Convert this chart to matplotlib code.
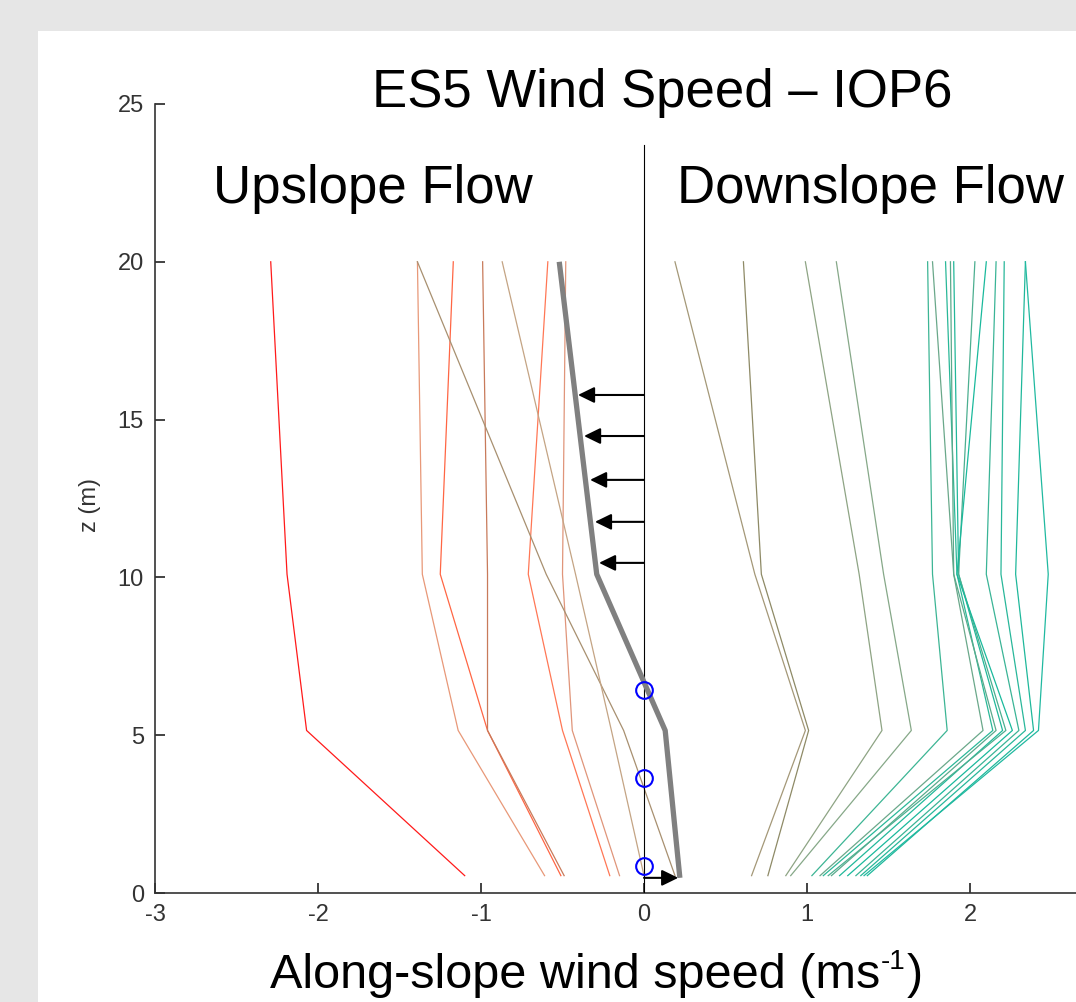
import matplotlib
matplotlib.use('Agg')
import matplotlib.pyplot as plt
from matplotlib.patches import Rectangle
import numpy as np

plt.rcParams['axes.unicode_minus'] = False

# ---------------- data ----------------
z_levels = [0.55, 5.15, 10.1, 20.0]

# along-slope speed at z_levels (bottom -> top)
upslope_profiles = [
    [-1.10, -2.07, -2.19, -2.29],
    [-0.61, -1.14, -1.36, -1.39],
    [-0.51, -0.96, -1.25, -1.17],
    [-0.49, -0.96, -0.96, -0.99],
    [-0.21, -0.50, -0.71, -0.59],
    [-0.15, -0.44, -0.50, -0.48],
    [0.19, -0.125, -0.60, -1.39],
    [0.00, -0.20, -0.42, -0.87],
]
upslope_colors = ['#ff1a1a', '#e89878', '#ff6644', '#c87a5a',
                  '#ff7755', '#e0957a', '#a89070', '#c4a484']

downslope_profiles = [
    [0.66, 0.99, 0.68, 0.19],
    [0.76, 1.01, 0.72, 0.61],
    [0.87, 1.46, 1.32, 0.99],
    [0.90, 1.64, 1.47, 1.18],
    [1.03, 1.86, 1.77, 1.74],
    [1.08, 2.08, 1.90, 1.77],
    [1.10, 2.14, 1.92, 1.85],
    [1.15, 2.16, 1.90, 1.88],
    [1.20, 2.20, 1.93, 1.90],
    [1.13, 2.22, 1.93, 2.03],
    [1.25, 2.26, 1.92, 2.10],
    [1.30, 2.30, 2.10, 2.16],
    [1.33, 2.34, 2.19, 2.21],
    [1.37, 2.39, 2.28, 2.34],
    [1.35, 2.42, 2.48, 2.34],
]
downslope_colors = ['#a49878', '#8e8a66', '#8ea484', '#86a888',
                    '#3cb594', '#6aa88a', '#2ab898', '#5aaa8c',
                    '#22b89a', '#4caf90', '#1ab99c', '#3ab496',
                    '#28b79a', '#1fb89b', '#20b9a0']

mean_z = [0.48, 5.15, 10.1, 20.0]
mean_profile = [0.22, 0.13, -0.29, -0.52]

arrow_z = [15.78, 14.48, 13.09, 11.76, 10.46]
arrow_tip = [-0.405, -0.368, -0.331, -0.301, -0.276]
bottom_arrow_z = 0.48
bottom_arrow_tip = 0.21

circle_z = [0.86, 3.64, 6.43]

xticks = [-3, -2, -1, 0, 1, 2, 3]
xticklabels = ['-3', '-2', '-1', '0', '1', '2', '']
yticks = [0, 5, 10, 15, 20, 25]

# ---------------- figure ----------------
W, H = 1076, 1002
fig = plt.figure(figsize=(W / 100, H / 100), dpi=100, facecolor='#e6e6e6')
fig.patches.append(Rectangle((38 / W, 0), 1 - 38 / W, 1 - 31 / H,
                             transform=fig.transFigure, facecolor='white',
                             edgecolor='none', zorder=-10))

ax = fig.add_axes([155 / W, 1 - 893 / H, 978 / W, 789 / H])
ax.set_zorder(5)
ax.set_facecolor('none')
ax.set_xlim(-3, 3)
ax.set_ylim(0, 25)

for prof, col in zip(upslope_profiles, upslope_colors):
    ax.plot(prof, z_levels, color=col, lw=0.9, zorder=2)
for prof, col in zip(downslope_profiles, downslope_colors):
    ax.plot(prof, z_levels, color=col, lw=0.9, zorder=2)

ax.plot([0, 0], [0, 23.7], color='black', lw=0.8, zorder=3)
ax.plot(mean_profile, mean_z, color='#808080', lw=3.8, zorder=4,
        solid_joinstyle='round', solid_capstyle='butt')

astyle = dict(arrowstyle='-|>,head_length=0.45,head_width=0.22',
              mutation_scale=22, color='black', lw=1.5,
              shrinkA=0, shrinkB=0)
for zz, tip in zip(arrow_z, arrow_tip):
    ax.annotate('', xy=(tip, zz), xytext=(0, zz), arrowprops=astyle, zorder=5)
ax.annotate('', xy=(bottom_arrow_tip, bottom_arrow_z), xytext=(0, bottom_arrow_z),
            arrowprops=astyle, zorder=5)

ax.plot([0] * len(circle_z), circle_z, 'o', mfc='none', mec='#0000ff',
        ms=12, mew=1.5, zorder=6)

for s in ['top', 'right']:
    ax.spines[s].set_visible(False)
for s in ['left', 'bottom']:
    ax.spines[s].set_color('#333333')
    ax.spines[s].set_linewidth(1.2)

tick_font = ['Liberation Sans', 'DejaVu Sans']
ax.set_xticks(xticks)
ax.set_yticks(yticks)
ax.set_xticklabels(xticklabels, family=tick_font, fontsize=17, color='#333333')
ax.set_yticklabels([str(t) for t in yticks], family=tick_font, fontsize=17,
                   color='#333333')
ax.tick_params(direction='in', length=7, width=1.2, color='#222222', pad=8)

fig.text(90 / W, 1 - 505 / H, 'z (m)', rotation=90, ha='center', va='center',
         family=tick_font, fontsize=17, color='#333333')

big = ['Liberation Sans', 'DejaVu Sans']
fig.text(662 / W, 1 - 107 / H, 'ES5 Wind Speed \u2013 IOP6', ha='center',
         va='baseline', family=big, fontsize=38, color='black')
fig.text(213 / W, 1 - 203 / H, 'Upslope Flow', ha='left', va='baseline',
         family=big, fontsize=38, color='black')
fig.text(677 / W, 1 - 203 / H, 'Downslope Flow', ha='left', va='baseline',
         family=big, fontsize=38, color='black')

# x label with small superscript "-1"
renderer = fig.canvas.get_renderer()
x0 = 270 / W
base = 1 - 988 / H
t1 = fig.text(x0, base, 'Along-slope wind speed (ms', ha='left', va='baseline',
              family=big, fontsize=35, color='black')
bb = t1.get_window_extent(renderer)
t2 = fig.text(bb.x1 / W + 1 / W, base + 19 / H, '-1', ha='left', va='baseline',
              family=big, fontsize=20, color='black')
bb2 = t2.get_window_extent(renderer)
fig.text(bb2.x1 / W + 1 / W, base, ')', ha='left', va='baseline',
         family=big, fontsize=35, color='black')

fig.savefig('out.png', dpi=100, facecolor=fig.get_facecolor())
